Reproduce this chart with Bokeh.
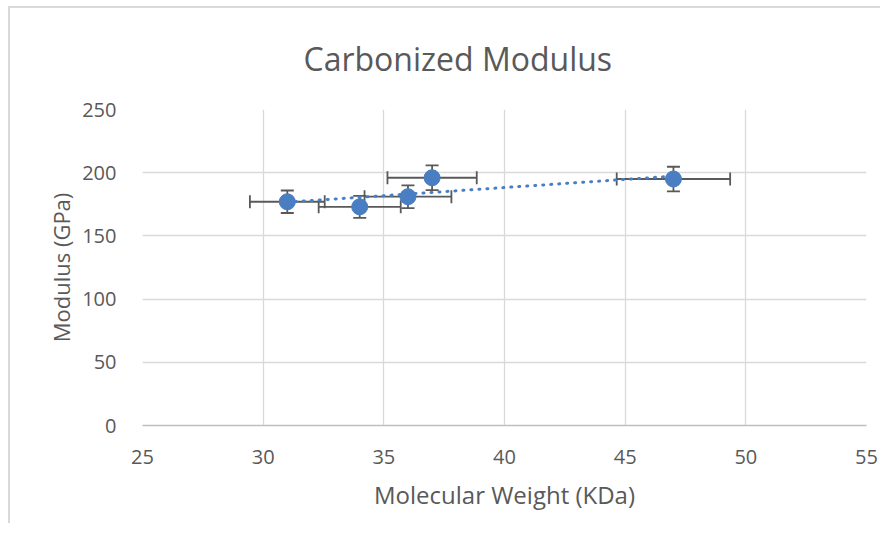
import numpy as np
from bokeh.plotting import figure
from bokeh.models import ColumnDataSource, Whisker, FixedTicker
from bokeh.embed import file_html
from bokeh.resources import INLINE

# Data
mol_weight = [31, 34, 36, 37, 47]          # KDa
modulus = [177, 173, 181, 196, 195]        # GPa
mw_err = [1.55, 1.7, 1.8, 1.85, 2.35]       # KDa
mod_err = [8.9, 8.7, 9.0, 9.8, 9.7]         # GPa

x_ticks = [25, 30, 35, 40, 45, 50, 55]
y_ticks = [0, 50, 100, 150, 200, 250]

GREY_TXT = "#595959"
GRID = "#D9D9D9"
BLUE = "#4A7EC2"
FONT = "Open Sans"

src = ColumnDataSource(dict(
    x=mol_weight, y=modulus,
    xl=[a - e for a, e in zip(mol_weight, mw_err)],
    xu=[a + e for a, e in zip(mol_weight, mw_err)],
    yl=[a - e for a, e in zip(modulus, mod_err)],
    yu=[a + e for a, e in zip(modulus, mod_err)],
))

p = figure(width=872, height=517, output_backend="svg", toolbar_location=None,
           x_range=(25, 55), y_range=(0, 250),
           min_border_left=132, min_border_right=16,
           min_border_top=101, min_border_bottom=100)
p.styles = {"margin-left": "8px", "margin-top": "6px",
            "border-left": "2px solid #D9D9D9", "border-top": "2px solid #D9D9D9"}

p.title.text = "Carbonized Modulus"
p.title.align = "left"
p.title.offset = 161
p.title.vertical_align = "top"
p.title.standoff = 56
p.title.text_font = FONT
p.title.text_font_size = "32px"
p.title.text_font_style = "normal"
p.title.text_color = GREY_TXT

p.outline_line_color = None
p.xaxis.ticker = FixedTicker(ticks=x_ticks)
p.yaxis.ticker = FixedTicker(ticks=y_ticks)
p.xgrid.ticker = FixedTicker(ticks=x_ticks)
p.ygrid.ticker = FixedTicker(ticks=y_ticks)
p.xgrid.grid_line_color = GRID
p.ygrid.grid_line_color = GRID
p.xgrid.grid_line_width = 1.3
p.ygrid.grid_line_width = 1.3

for ax in (p.xaxis[0], p.yaxis[0]):
    ax.major_tick_line_color = None
    ax.minor_tick_line_color = None
    ax.major_label_text_font = FONT
    ax.major_label_text_font_size = "20px"
    ax.major_label_text_color = GREY_TXT
    ax.axis_label_text_font = FONT
    ax.axis_label_text_font_style = "normal"
    ax.axis_label_text_color = GREY_TXT
p.xaxis.axis_label_text_font_size = "24px"
p.yaxis.axis_label_text_font_size = "22px"

p.xaxis.axis_line_color = "#BFBFBF"
p.xaxis.axis_line_width = 1.3
p.yaxis.axis_line_color = None
p.xaxis.axis_label = "Molecular Weight (KDa)"
p.yaxis.axis_label = "Modulus (GPa)"
p.xaxis.major_label_standoff = 18
p.xaxis.axis_label_standoff = 11
p.yaxis.major_label_standoff = 20
p.yaxis.axis_label_standoff = 3

# trendline (linear fit of the data)
k, b = np.polyfit(mol_weight, modulus, 1)
tx = [min(mol_weight), max(mol_weight)]
p.line(tx, [k * v + b for v in tx], line_color=BLUE, line_width=3,
       line_dash="1 7", line_cap="round")

# error bars
ERR = "#595959"
wy = Whisker(source=src, base="x", lower="yl", upper="yu", dimension="height",
             line_color=ERR, line_width=1.8)
wx = Whisker(source=src, base="y", lower="xl", upper="xu", dimension="width",
             line_color=ERR, line_width=1.8)
for w in (wy, wx):
    for h in (w.upper_head, w.lower_head):
        h.size = 13
        h.line_color = ERR
        h.line_width = 1.8
    p.add_layout(w)

p.scatter("x", "y", source=src, size=16, fill_color=BLUE, line_color=BLUE)

open("out.html", "w").write(file_html(p, INLINE))
